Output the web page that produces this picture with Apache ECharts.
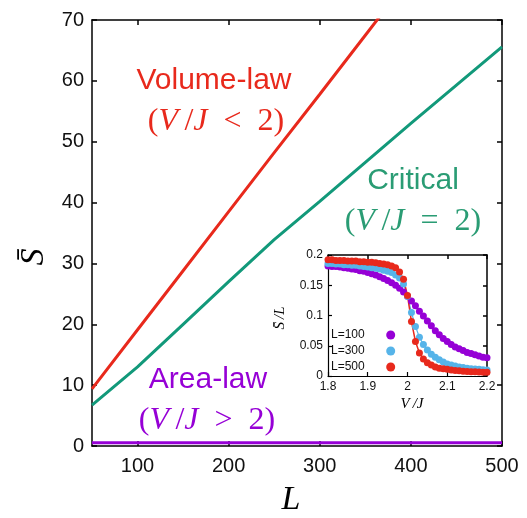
<!DOCTYPE html>
<html>
<head>
<meta charset="utf-8">
<script src="https://cdn.jsdelivr.net/npm/echarts@6/dist/echarts.min.js"></script>
<style>
html, body { margin: 0; padding: 0; background: #fff; }
#main { width: 527px; height: 518px; }
</style>
</head>
<body>
<div id="main"></div>
<script>
// main panel: entropy vs system size
var sizeL = [50, 100, 150, 200, 250, 300, 350, 400, 450, 500];
var volumeS = [9.4, 19.1, 28.8, 38.5, 48.2, 57.8, 67.5, 77.2, 86.9, 96.6];
var criticalS = [6.7, 13.0, 20.0, 27.0, 33.9, 40.2, 46.6, 53.0, 59.3, 65.6];
var areaS = [0.55, 0.55, 0.55, 0.55, 0.55, 0.55, 0.55, 0.55, 0.55, 0.55];
var mainTicksX = [100, 200, 300, 400, 500];

// inset: S/L vs V/J
var ratioVJ = [1.80, 1.81, 1.82, 1.83, 1.84, 1.85, 1.86, 1.87, 1.88, 1.89,
  1.90, 1.91, 1.92, 1.93, 1.94, 1.95, 1.96, 1.97, 1.98, 1.99,
  2.00, 2.01, 2.02, 2.03, 2.04, 2.05, 2.06, 2.07, 2.08, 2.09,
  2.10, 2.11, 2.12, 2.13, 2.14, 2.15, 2.16, 2.17, 2.18, 2.19, 2.20];
var densL100 = [0.182, 0.181, 0.181, 0.180, 0.179, 0.178, 0.177, 0.176, 0.174, 0.173,
  0.171, 0.169, 0.167, 0.164, 0.161, 0.158, 0.154, 0.150, 0.145, 0.139,
  0.132, 0.124, 0.116, 0.107, 0.099, 0.091, 0.083, 0.075, 0.068, 0.062,
  0.057, 0.052, 0.048, 0.045, 0.042, 0.039, 0.037, 0.035, 0.033, 0.031, 0.030];
var densL300 = [0.186, 0.186, 0.185, 0.185, 0.184, 0.184, 0.183, 0.183, 0.182, 0.181,
  0.180, 0.179, 0.178, 0.177, 0.175, 0.173, 0.171, 0.167, 0.162, 0.152,
  0.132, 0.105, 0.082, 0.064, 0.052, 0.043, 0.036, 0.031, 0.027, 0.023,
  0.020, 0.018, 0.0165, 0.015, 0.014, 0.013, 0.012, 0.0115, 0.011, 0.0105, 0.010];
var densL500 = [0.192, 0.192, 0.191, 0.191, 0.191, 0.190, 0.190, 0.190, 0.189, 0.189,
  0.188, 0.188, 0.187, 0.186, 0.185, 0.184, 0.182, 0.179, 0.172, 0.160,
  0.133, 0.090, 0.057, 0.038, 0.028, 0.022, 0.018, 0.015, 0.013, 0.012,
  0.011, 0.010, 0.009, 0.0085, 0.008, 0.0075, 0.007, 0.007, 0.0065, 0.006, 0.006];
var insetNames = ['L=100', 'L=300', 'L=500'];

var colRed = '#e8291c', colGreen = '#12997a', colPurple = '#9600d6', colBlue = '#56b4e9';
var sans = 'Liberation Sans, Arial, sans-serif';
var serif = 'Liberation Serif, DejaVu Serif, serif';

function pairs(xs, ys) {
  return xs.map(function (x, i) { return [x, ys[i]]; });
}

function mirrorX(grid, pos, min, max, ticks, interval, len) {
  var ax = {
    type: 'value', gridIndex: grid, position: pos, min: min, max: max,
    axisLine: { show: true, onZero: false, lineStyle: { color: '#000', width: 1.5 } },
    axisTick: { show: true, inside: true, length: len, lineStyle: { color: '#000', width: 1.5 } },
    axisLabel: { show: false }, splitLine: { show: false }
  };
  if (ticks) ax.axisTick.customValues = ticks; else ax.interval = interval;
  return ax;
}

// "(V/J op 2)" with italic variables and upright symbols
function mathLabel(x, y, op, color) {
  return {
    type: 'text', x: x, y: y,
    style: {
      text: '{u|(}{i|V}{u|\u2009/}{i|J}{u|\u2002' + op + '\u20022)}',
      fill: color,
      align: 'center', verticalAlign: 'middle',
      rich: {
        u: { fontSize: 32, fontFamily: serif, fill: color },
        i: { fontSize: 32, fontFamily: serif, fontStyle: 'italic', fill: color }
      }
    }
  };
}

var chart = echarts.init(document.getElementById('main'));

var option = {
  animation: false,
  grid: [
    { left: 92, right: 25, top: 20, bottom: 72 },
    { left: 328, right: 40, top: 255, bottom: 142 }
  ],
  xAxis: [
    {
      type: 'value', gridIndex: 0, position: 'bottom', min: 50, max: 500,
      axisLine: { onZero: false, lineStyle: { color: '#000', width: 1.5 } },
      axisTick: { inside: true, length: 5, customValues: mainTicksX, lineStyle: { color: '#000', width: 1.5 } },
      axisLabel: { customValues: mainTicksX, margin: 10, fontSize: 20, fontFamily: sans, color: '#111' },
      splitLine: { show: false }
    },
    mirrorX(0, 'top', 50, 500, mainTicksX, null, 5),
    {
      type: 'value', gridIndex: 1, position: 'bottom', min: 1.8, max: 2.2, interval: 0.1,
      axisLine: { onZero: false, lineStyle: { color: '#000', width: 1.2 } },
      axisTick: { inside: true, length: 4, lineStyle: { color: '#000', width: 1.2 } },
      axisLabel: { margin: 5, fontSize: 12, fontFamily: sans, color: '#111', showMinLabel: true, showMaxLabel: true },
      splitLine: { show: false }
    },
    mirrorX(1, 'top', 1.8, 2.2, null, 0.1, 4)
  ],
  yAxis: [
    {
      type: 'value', gridIndex: 0, position: 'left', min: 0, max: 70, interval: 10,
      axisLine: { show: true, onZero: false, lineStyle: { color: '#000', width: 1.5 } },
      axisTick: { show: true, inside: true, length: 5, lineStyle: { color: '#000', width: 1.5 } },
      axisLabel: { margin: 8, fontSize: 20, fontFamily: sans, color: '#111' },
      splitLine: { show: false }
    },
    mirrorX(0, 'right', 0, 70, null, 10, 5),
    {
      type: 'value', gridIndex: 1, position: 'left', min: 0, max: 0.2, interval: 0.05,
      axisLine: { show: true, onZero: false, lineStyle: { color: '#000', width: 1.2 } },
      axisTick: { show: true, inside: true, length: 4, lineStyle: { color: '#000', width: 1.2 } },
      axisLabel: { margin: 5, fontSize: 12, fontFamily: sans, color: '#111' },
      splitLine: { show: false }
    },
    mirrorX(1, 'right', 0, 0.2, null, 0.05, 4)
  ],
  legend: {
    data: insetNames, orient: 'vertical', left: 331, top: 329, align: 'right',
    icon: 'circle', itemWidth: 42, itemHeight: 9, itemGap: 4, padding: 0,
    textStyle: { fontSize: 12, fontFamily: sans, color: '#111' }
  },
  series: [
    { type: 'line', xAxisIndex: 0, yAxisIndex: 0, showSymbol: false, data: pairs(sizeL, volumeS),
      lineStyle: { color: colRed, width: 3 }, itemStyle: { color: colRed } },
    { type: 'line', xAxisIndex: 0, yAxisIndex: 0, showSymbol: false, data: pairs(sizeL, criticalS),
      lineStyle: { color: colGreen, width: 3 }, itemStyle: { color: colGreen } },
    { type: 'line', xAxisIndex: 0, yAxisIndex: 0, showSymbol: false, data: pairs(sizeL, areaS),
      lineStyle: { color: colPurple, width: 3 }, itemStyle: { color: colPurple } },
    { name: insetNames[0], type: 'line', xAxisIndex: 2, yAxisIndex: 2, symbol: 'circle', symbolSize: 7,
      data: pairs(ratioVJ, densL100), lineStyle: { color: colPurple, width: 1 }, itemStyle: { color: colPurple } },
    { name: insetNames[1], type: 'line', xAxisIndex: 2, yAxisIndex: 2, symbol: 'circle', symbolSize: 7,
      data: pairs(ratioVJ, densL300), lineStyle: { color: colBlue, width: 1.2 }, itemStyle: { color: colBlue } },
    { name: insetNames[2], type: 'line', xAxisIndex: 2, yAxisIndex: 2, symbol: 'circle', symbolSize: 7,
      data: pairs(ratioVJ, densL500), lineStyle: { color: colRed, width: 1.5 }, itemStyle: { color: colRed } }
  ],
  graphic: [
    { type: 'text', x: 214, y: 81, style: { text: 'Volume-law', font: '30px ' + sans, fill: colRed, align: 'center', verticalAlign: 'middle' } },
    mathLabel(216, 122, '<', colRed),
    { type: 'text', x: 413, y: 181, style: { text: 'Critical', font: '30px ' + sans, fill: '#2a9c74', align: 'center', verticalAlign: 'middle' } },
    mathLabel(413, 222, '=', '#2a9c74'),
    { type: 'text', x: 208, y: 380, style: { text: 'Area-law', font: '30px ' + sans, fill: colPurple, align: 'center', verticalAlign: 'middle' } },
    mathLabel(207, 421, '>', colPurple),
    { type: 'text', x: 291, y: 500, style: { text: 'L', font: 'italic 34px ' + serif, fill: '#000', align: 'center', verticalAlign: 'middle' } },
    { type: 'text', x: 34, y: 257, rotation: Math.PI / 2, style: { text: 'S\u0304', font: 'italic 34px ' + serif, fill: '#000', align: 'center', verticalAlign: 'middle' } },
    { type: 'text', x: 412, y: 404, style: { text: 'V\u2009/J', font: 'italic 15px ' + serif, fill: '#000', align: 'center', verticalAlign: 'middle' } },
    { type: 'text', x: 280, y: 318, rotation: Math.PI / 2, style: { text: 'S\u0304\u2009/L', font: 'italic 15px ' + serif, fill: '#000', align: 'center', verticalAlign: 'middle' } }
  ]
};

chart.setOption(option);
</script>
</body>
</html>
